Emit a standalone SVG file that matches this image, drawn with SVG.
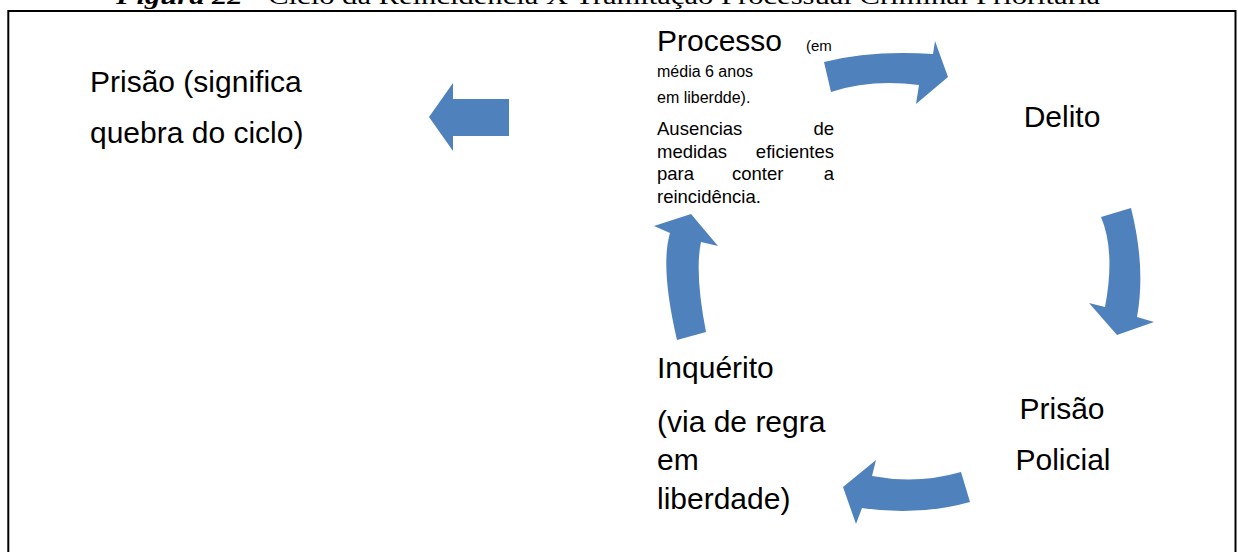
<svg xmlns="http://www.w3.org/2000/svg" width="1238" height="552" viewBox="0 0 1238 552">
<style>
.t{font-family:"Liberation Sans",Arial,sans-serif;fill:#000}
.big{font-size:30px}
.sm{font-size:16px}
.xs{font-size:15px}
.md{font-size:18.5px}
.arr{fill:#4F81BD;stroke:none}
.ttl{font-family:"Liberation Serif","Times New Roman",serif;font-size:24px;fill:#000}
</style>
<rect width="1238" height="552" fill="#fff"/>
<text class="ttl" x="116" y="4" textLength="984" lengthAdjust="spacingAndGlyphs"><tspan font-weight="bold" font-style="italic">Figura 22</tspan> - Ciclo da Reincidência X Tramitação Processual Criminal Prioritária</text>
<rect x="8.3" y="11" width="1227.2" height="560" fill="none" stroke="#000" stroke-width="2"/>

<g id="connectors">
<path class="arr" d="M509,99 L453,99 L453,83 L429,117 L453,151 L453,136 L509,136 Z"/>
<path class="arr" d="M824,62 Q871,50 933,54 L935,41 L948,77 L916,104 L919,85 Q871,79 831,92 Z"/>
<path class="arr" d="M1101,217 L1131,208 Q1146,267.5 1137,317 L1154,322 L1117,335 L1089,303 L1105,307 Q1115.6,251.4 1101,217 Z"/>
<path class="arr" d="M961,472 Q917.5,484.6 872,476 L876,460 L843,487 L856,524 L862,508 Q918,516.4 970,502 Z"/>
<path class="arr" d="M677,340 Q660,267 670,233 L654,226 L691,214 L718,246 L701,242 Q694.5,273 706,332 Z"/>
</g>

<g id="node-prisao-ciclo">
<text class="t big" x="90" y="92">Prisão (significa</text>
<text class="t big" x="90" y="143">quebra do ciclo)</text>
</g>

<g id="node-processo">
<text class="t big" x="657" y="51">Processo</text>
<text class="t xs" x="806" y="51">(em</text>
<text class="t sm" x="657" y="77">média 6 anos</text>
<text class="t sm" x="657" y="103">em liberdde).</text>
<text class="t md" x="657" y="135">Ausencias</text>
<text class="t md" x="834" y="135" text-anchor="end">de</text>
<text class="t md" x="657" y="157.7">medidas</text>
<text class="t md" x="834" y="157.7" text-anchor="end">eficientes</text>
<text class="t md" x="657" y="180">para</text>
<text class="t md" x="732" y="180">conter</text>
<text class="t md" x="834" y="180" text-anchor="end">a</text>
<text class="t md" x="657" y="203">reincidência.</text>
</g>

<g id="node-delito">
<text class="t big" x="1062" y="127" text-anchor="middle">Delito</text>
</g>

<g id="node-prisao-policial">
<text class="t big" x="1062" y="419" text-anchor="middle">Prisão</text>
<text class="t big" x="1063" y="470" text-anchor="middle">Policial</text>
</g>

<g id="node-inquerito">
<text class="t big" x="657" y="378">Inquérito</text>
<text class="t big" x="657" y="432">(via de regra</text>
<text class="t big" x="657" y="470">em</text>
<text class="t big" x="657" y="509">liberdade)</text>
</g>
</svg>
